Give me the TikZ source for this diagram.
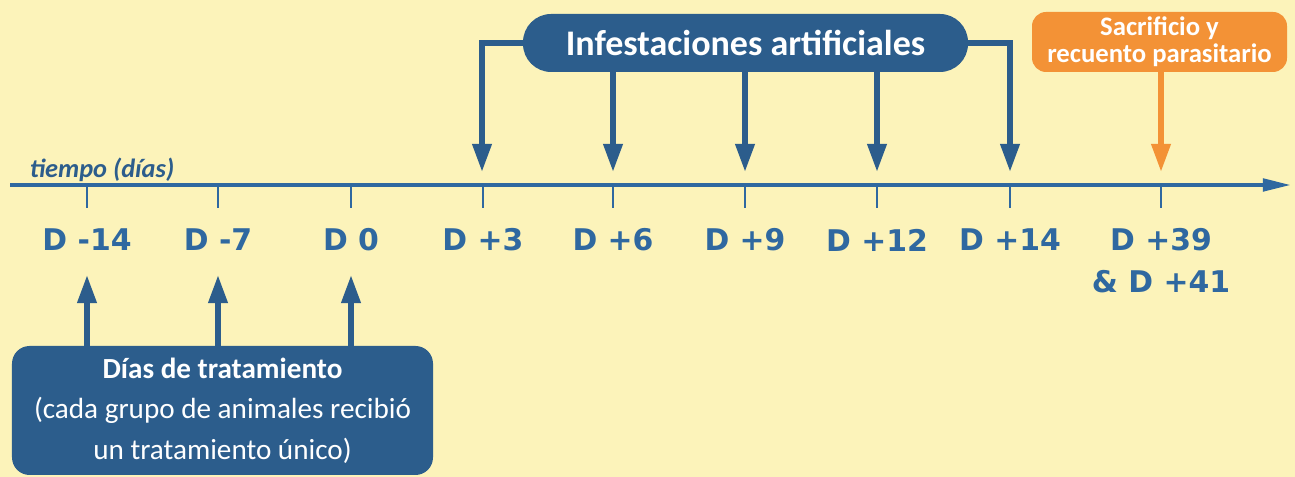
\documentclass[tikz,border=0pt]{standalone}
\usepackage{fontspec}
\setmainfont{Carlito}
\newfontfamily\dayfont{DejaVu Sans}
\usetikzlibrary{arrows.meta}

\definecolor{bgyellow}{HTML}{FCF3BA}
\definecolor{boxblue}{HTML}{2C5D8C}
\definecolor{axisblue}{HTML}{2F68A0}
\definecolor{killorange}{HTML}{F39236}

\tikzset{
  daylabel/.style={font=\dayfont\bfseries\fontsize{17}{24}\selectfont, text=axisblue, align=center},
  bluebox/.style={fill=boxblue, text=white, inner sep=0pt},
  infarrow/.style={boxblue, line width=3.2pt, -{Triangle[length=16pt,width=10.5pt]}},
}

\begin{document}
\begin{tikzpicture}
 \useasboundingbox (0,0) rectangle (25.9,9.54);
 \fill[bgyellow] (0,0) rectangle (25.9,9.54);
 % time axis
 \coordinate (tstart) at (0.2,5.84);
 \coordinate (tend) at (25.82,5.84);
 \draw[axisblue, line width=2.3pt, -{Triangle[length=16pt,width=7pt]}] (tstart) -- (tend);
 \node[font=\bfseries\itshape\fontsize{15}{18}\selectfont, text=boxblue] (tiempo) at (2.04,6.14) {tiempo (días)};
 % ticks
 \coordinate (tm14) at (1.74,5.84);
 \coordinate (tm7) at (4.36,5.84);
 \coordinate (t0) at (7.02,5.84);
 \coordinate (t3) at (9.66,5.84);
 \coordinate (t6) at (12.26,5.84);
 \coordinate (t9) at (14.9,5.84);
 \coordinate (t12) at (17.54,5.84);
 \coordinate (t14) at (20.2,5.84);
 \coordinate (t39) at (23.22,5.84);
 \foreach \t in {tm14,tm7,t0,t3,t6,t9,t12,t14,t39}
   \draw[axisblue, line width=0.9pt] (\t) -- ++(0,-0.46);
 % day labels
 \node[daylabel] (dm14) at (1.74,4.74) {D -14};
 \node[daylabel] (dm7) at (4.36,4.74) {D -7};
 \node[daylabel] (d0) at (7.02,4.74) {D 0};
 \node[daylabel] (d3) at (9.66,4.74) {D +3};
 \node[daylabel] (d6) at (12.26,4.74) {D +6};
 \node[daylabel] (d9) at (14.9,4.74) {D +9};
 \node[daylabel] (d12) at (17.54,4.74) {D +12};
 \node[daylabel] (d14) at (20.2,4.74) {D +14};
 \node[daylabel, anchor=north] (d39) at (23.22,5.1) {D +39\\\& D +41};
 % treatment days
 \node[bluebox, rounded corners=10pt, minimum width=8.42cm, minimum height=2.58cm,
   align=center, font=\fontsize{16.6}{23}\selectfont] (treat) at (4.45,1.33)
   {\textbf{Días de tratamiento}\\(cada grupo de animales recibió\\un tratamiento único)};
 \coordinate (um14) at (1.74,4.04);
 \coordinate (um7) at (4.36,4.04);
 \coordinate (u0) at (7.02,4.04);
 \draw[infarrow] (treat.north -| um14) -- (um14);
 \draw[infarrow] (treat.north -| um7) -- (um7);
 \draw[infarrow] (treat.north -| u0) -- (u0);
 % artificial infestations
 \node[bluebox, rounded corners=16pt, minimum width=8.9cm, minimum height=1.16cm,
   font=\bfseries\fontsize{20.5}{24}\selectfont] (infest) at (14.91,8.68) {Infestaciones artificiales};
 \coordinate (i3) at (9.64,6.1);
 \coordinate (i6) at (12.26,6.1);
 \coordinate (i9) at (14.9,6.1);
 \coordinate (i12) at (17.54,6.1);
 \coordinate (i14) at (20.2,6.1);
 \draw[infarrow] (infest.west) -| (i3);
 \draw[infarrow] (infest.south -| i6) -- (i6);
 \draw[infarrow] (infest.south -| i9) -- (i9);
 \draw[infarrow] (infest.south -| i12) -- (i12);
 \draw[infarrow] (infest.east) -| (i14);
 % slaughter
 \node[fill=killorange, text=white, inner sep=0pt, rounded corners=8pt, minimum width=5.1cm,
   minimum height=1.2cm, align=center, font=\bfseries\fontsize{15.2}{15.5}\selectfont] (kill) at (23.19,8.7)
   {Sacrificio y\\recuento parasitario};
 \coordinate (k39) at (23.22,6.1);
 \draw[killorange, line width=3.2pt, -{Triangle[length=16pt,width=10.5pt]}] (kill.south -| k39) -- (k39);
\end{tikzpicture}
\end{document}
